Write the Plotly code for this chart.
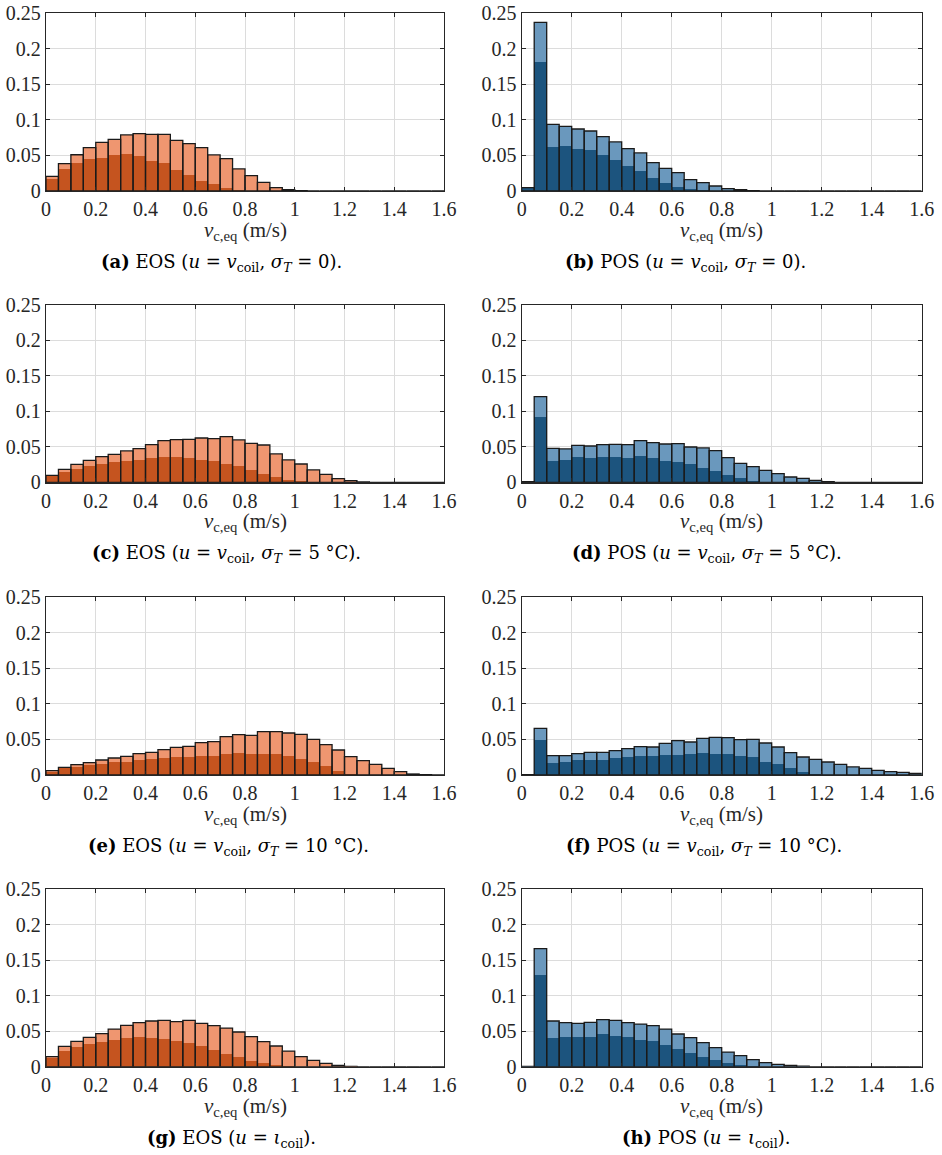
import plotly.graph_objects as go

W, H = 942, 1155

N_BINS = 32
BIN_W = 0.05
bin_centers = [BIN_W * (i + 0.5) for i in range(N_BINS)]


def pad(v):
    return list(v) + [0.0] * (N_BINS - len(v))


# (a) EOS, u = v_coil, sigma_T = 0
a_light = pad([0.0206, 0.0385, 0.051, 0.061, 0.0685, 0.0727, 0.079, 0.0807, 0.0797, 0.0797, 0.0713,
               0.0666, 0.061, 0.0507, 0.0455, 0.031, 0.0216, 0.0122, 0.0047, 0.0019, 0.0005])
a_dark = pad([0.017, 0.031, 0.039, 0.0455, 0.047, 0.051, 0.052, 0.0497, 0.0427, 0.039, 0.0295,
              0.022, 0.0145, 0.0094, 0.0047, 0.0014, 0.0005])
# (b) POS, u = v_coil, sigma_T = 0
b_light = pad([0.0047, 0.2373, 0.0938, 0.091, 0.0872, 0.0844, 0.0765, 0.069, 0.0596, 0.0535, 0.0399,
               0.0319, 0.0258, 0.016, 0.0117, 0.007, 0.0033, 0.0019, 0.0005])
b_dark = pad([0.004, 0.182, 0.0614, 0.0628, 0.0586, 0.0577, 0.0502, 0.0436, 0.0347, 0.0277, 0.0188,
              0.0113, 0.0061, 0.0023, 0.001])
# (c) EOS, sigma_T = 5 C
c_light = pad([0.0099, 0.0183, 0.0254, 0.031, 0.0362, 0.0395, 0.0442, 0.0475, 0.0531, 0.0587, 0.0602,
               0.0606, 0.0625, 0.0616, 0.0644, 0.0597, 0.055, 0.0526, 0.04, 0.0315, 0.0258, 0.0174,
               0.0113, 0.0052, 0.0023, 0.0005])
c_dark = pad([0.009, 0.0146, 0.0188, 0.023, 0.0263, 0.0287, 0.0296, 0.031, 0.0343, 0.0352, 0.0352,
              0.0343, 0.0315, 0.0305, 0.0263, 0.023, 0.0174, 0.0122, 0.0075, 0.0038, 0.0014])
# (d) POS, sigma_T = 5 C
d_light = pad([0.001, 0.1208, 0.0479, 0.047, 0.0522, 0.0512, 0.0531, 0.0536, 0.0531, 0.0587, 0.0559,
               0.054, 0.0545, 0.0498, 0.0484, 0.0446, 0.0348, 0.0268, 0.0221, 0.0169, 0.0122, 0.0075,
               0.0056, 0.0028, 0.001])
d_dark = pad([0.001, 0.0921, 0.0301, 0.0315, 0.0352, 0.0343, 0.0352, 0.0357, 0.0338, 0.0367, 0.0343,
              0.0301, 0.0282, 0.0254, 0.0207, 0.0155, 0.0099, 0.0056, 0.0019])
# (e) EOS, sigma_T = 10 C
e_light = pad([0.0061, 0.0108, 0.0145, 0.0174, 0.0211, 0.0239, 0.0263, 0.030, 0.0319, 0.0356, 0.0389,
               0.0403, 0.0455, 0.0469, 0.0539, 0.0568, 0.0558, 0.061, 0.061, 0.0591, 0.0572, 0.0502,
               0.0427, 0.0352, 0.0258, 0.0202, 0.015, 0.0094, 0.0047, 0.0014, 0.0005, 0.0])
e_dark = pad([0.0047, 0.0094, 0.0117, 0.0136, 0.016, 0.0178, 0.0188, 0.0211, 0.022, 0.0235, 0.0249,
              0.0258, 0.0272, 0.0272, 0.030, 0.0314, 0.0296, 0.0296, 0.0296, 0.0263, 0.023, 0.0183,
              0.0122, 0.0056, 0.0014])
# (f) POS, sigma_T = 10 C
f_light = pad([0.0005, 0.0657, 0.0272, 0.0272, 0.030, 0.0319, 0.0319, 0.0342, 0.037, 0.0399, 0.0394,
               0.0446, 0.0483, 0.0464, 0.0516, 0.053, 0.0525, 0.0497, 0.0502, 0.045, 0.0394, 0.0314,
               0.0253, 0.022, 0.0183, 0.015, 0.0113, 0.0094, 0.0066, 0.0047, 0.0038, 0.0023])
f_dark = pad([0.0, 0.0492, 0.0174, 0.0188, 0.0206, 0.0216, 0.0216, 0.0235, 0.0249, 0.0263, 0.0267,
              0.0286, 0.0286, 0.0296, 0.031, 0.0296, 0.030, 0.0267, 0.0253, 0.0188, 0.0155, 0.0103,
              0.0038, 0.0014])
# (g) EOS, u = iota_coil
g_light = pad([0.0141, 0.0286, 0.0356, 0.0413, 0.0464, 0.053, 0.0582, 0.0619, 0.0643, 0.0652, 0.0633,
               0.0652, 0.061, 0.0577, 0.0544, 0.0488, 0.0422, 0.0352, 0.0291, 0.022, 0.0141, 0.0089,
               0.0047, 0.0019, 0.0005])
g_dark = pad([0.0122, 0.0216, 0.0277, 0.0319, 0.0347, 0.0375, 0.0399, 0.0417, 0.0403, 0.0389, 0.0356,
              0.0333, 0.0291, 0.0235, 0.0183, 0.0136, 0.008, 0.0047, 0.0023, 0.0009])
# (h) POS, u = iota_coil
h_light = pad([0.0005, 0.166, 0.0643, 0.0619, 0.061, 0.0624, 0.0661, 0.0652, 0.0619, 0.06, 0.0577,
               0.053, 0.046, 0.0408, 0.0338, 0.0267, 0.0206, 0.0155, 0.0099, 0.0056, 0.0033, 0.0019,
               0.0009])
h_dark = pad([0.0, 0.129, 0.0403, 0.0417, 0.0422, 0.0417, 0.046, 0.0436, 0.0422, 0.038, 0.0356,
              0.0305, 0.0249, 0.0197, 0.0141, 0.0094, 0.0056, 0.0023, 0.0009])

captions = [
    "<b>(a)</b> EOS (<i>u</i> = <i>v</i><sub>coil</sub>, <i>σ<sub>T</sub></i> = 0).",
    "<b>(b)</b> POS (<i>u</i> = <i>v</i><sub>coil</sub>, <i>σ<sub>T</sub></i> = 0).",
    "<b>(c)</b> EOS (<i>u</i> = <i>v</i><sub>coil</sub>, <i>σ<sub>T</sub></i> = 5 °C).",
    "<b>(d)</b> POS (<i>u</i> = <i>v</i><sub>coil</sub>, <i>σ<sub>T</sub></i> = 5 °C).",
    "<b>(e)</b> EOS (<i>u</i> = <i>v</i><sub>coil</sub>, <i>σ<sub>T</sub></i> = 10 °C).",
    "<b>(f)</b> POS (<i>u</i> = <i>v</i><sub>coil</sub>, <i>σ<sub>T</sub></i> = 10 °C).",
    "<b>(g)</b> EOS (<i>u</i> = <i>ι</i><sub>coil</sub>).",
    "<b>(h)</b> POS (<i>u</i> = <i>ι</i><sub>coil</sub>).",
]
x_title = "<i>v</i><sub>c,eq</sub> (m/s)"
x_tickvals = [0, 0.2, 0.4, 0.6, 0.8, 1.0, 1.2, 1.4, 1.6]
x_ticktext = ["0", "0.2", "0.4", "0.6", "0.8", "1", "1.2", "1.4", "1.6"]
y_tickvals = [0, 0.05, 0.1, 0.15, 0.2, 0.25]
y_ticktext = ["0", "0.05", "0.1", "0.15", "0.2", "0.25"]

panels = [
    (a_light, a_dark), (b_light, b_dark),
    (c_light, c_dark), (d_light, d_dark),
    (e_light, e_dark), (f_light, f_dark),
    (g_light, g_dark), (h_light, h_dark),
]

ORANGE_LIGHT = "#EF9670"
ORANGE_DARK = "#C5541F"
BLUE_LIGHT = "#6A98BD"
BLUE_DARK = "#1C547E"

# layout geometry in page pixels
col_x = [(46, 444), (521.7, 921.7)]
row_y = [(13.3, 191), (305, 482.3), (597.3, 775), (889, 1066.7)]
cap_cx = [221, 685, 226, 707, 228, 704, 231, 706]

FONT = "Liberation Serif, serif"
CAP_FONT = "DejaVu Serif, serif"


def px_x(x):
    return x / W


def px_y(y):
    return 1 - y / H


fig = go.Figure()
annotations = []
layout_axes = {}

for k, (light, dark) in enumerate(panels):
    r, c = divmod(k, 2)
    idx = k + 1
    xa = "x" if idx == 1 else f"x{idx}"
    ya = "y" if idx == 1 else f"y{idx}"
    lc = ORANGE_LIGHT if c == 0 else BLUE_LIGHT
    dc = ORANGE_DARK if c == 0 else BLUE_DARK

    fig.add_trace(go.Bar(x=bin_centers, y=light, width=BIN_W, marker=dict(color=lc, line=dict(width=0)),
                         xaxis=xa, yaxis=ya, showlegend=False))
    fig.add_trace(go.Bar(x=bin_centers, y=dark, width=BIN_W, marker=dict(color=dc, line=dict(width=0)),
                         xaxis=xa, yaxis=ya, showlegend=False))
    fig.add_trace(go.Bar(x=bin_centers, y=light, width=BIN_W,
                         marker=dict(color="rgba(0,0,0,0)", line=dict(width=1.3, color="#1a1a1a")),
                         xaxis=xa, yaxis=ya, showlegend=False))

    x0, x1 = col_x[c]
    y0, y1 = row_y[r]
    dom_x = [px_x(x0), px_x(x1)]
    dom_y = [px_y(y1), px_y(y0)]
    axis_common = dict(
        showgrid=True, gridcolor="#dcdcdc", gridwidth=1,
        showline=True, linecolor="#262626", linewidth=1.2, mirror="allticks",
        ticks="inside", ticklen=4, tickcolor="#262626", tickwidth=1,
        zeroline=False, fixedrange=True, automargin=False,
        tickfont=dict(family=FONT, size=20, color="#262626"),
    )
    layout_axes["xaxis" if idx == 1 else f"xaxis{idx}"] = dict(
        axis_common, domain=dom_x, range=[0, 1.6], tickvals=x_tickvals, ticktext=x_ticktext,
        anchor=ya, ticklabelstandoff=0,
    )
    layout_axes["yaxis" if idx == 1 else f"yaxis{idx}"] = dict(
        axis_common, domain=dom_y, range=[0, 0.25], tickvals=y_tickvals, ticktext=y_ticktext,
        anchor=xa, ticklabelstandoff=0,
    )

    annotations.append(dict(
        text=x_title, x=px_x((x0 + x1) / 2), y=px_y(y1 + 40), xref="paper", yref="paper",
        xanchor="center", yanchor="middle", showarrow=False,
        font=dict(family=FONT, size=21, color="#262626"),
    ))
    annotations.append(dict(
        text=captions[k], x=px_x(cap_cx[k]), y=px_y(y1 + 72), xref="paper", yref="paper",
        xanchor="center", yanchor="middle", showarrow=False,
        font=dict(family=CAP_FONT, size=18, color="#000000"),
    ))

fig.update_layout(
    width=W, height=H,
    margin=dict(l=0, r=0, t=0, b=0, autoexpand=False),
    paper_bgcolor="white", plot_bgcolor="white",
    font=dict(family=FONT, size=20, color="#262626"),
    barmode="overlay", bargap=0, hovermode=False,
    annotations=annotations,
    **layout_axes,
)

fig.write_html("out.html", config={"displayModeBar": False, "staticPlot": True},
               post_script="document.body.style.margin='0px';")
